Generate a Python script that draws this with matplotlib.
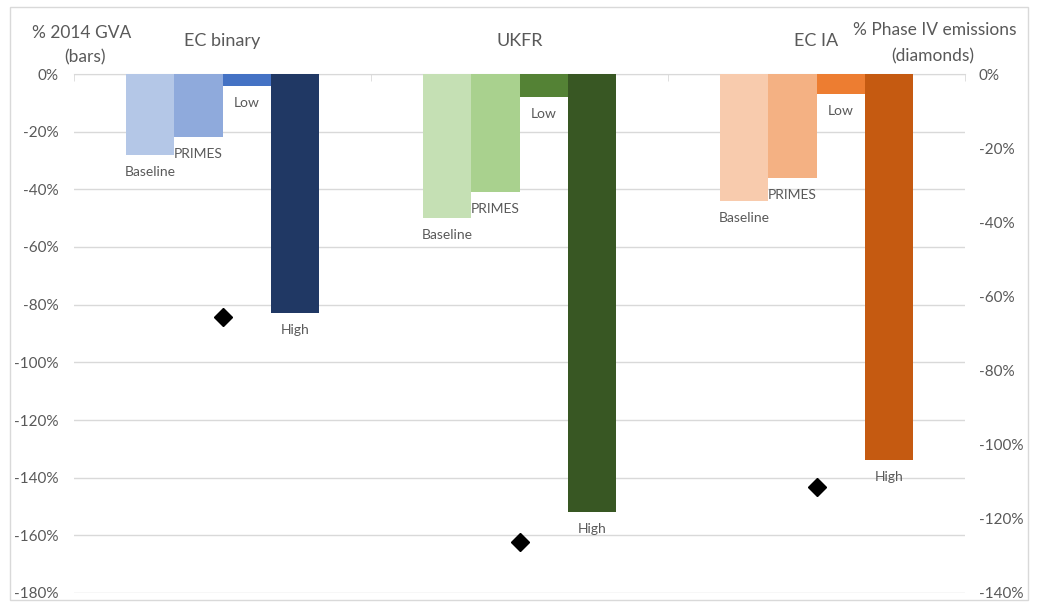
import matplotlib
matplotlib.use("Agg")
import matplotlib.pyplot as plt
from matplotlib.patches import Rectangle
from matplotlib.ticker import FuncFormatter, MultipleLocator, FixedLocator

plt.rcParams['font.family'] = ['Lato', 'DejaVu Sans']

groups = ["EC binary", "UKFR", "EC IA"]
scenarios = ["Baseline", "PRIMES", "Low", "High"]
gva_values = {
    "EC binary": [-28, -22, -4, -83],
    "UKFR": [-50, -41, -8, -152],
    "EC IA": [-44, -36, -7, -134],
}
emissions_values = [-65.6, -126.2, -111.4]
bar_colors = {
    "EC binary": ["#b4c7e7", "#8faadc", "#4472c4", "#203864"],
    "UKFR": ["#c5e0b4", "#a9d18e", "#548235", "#385723"],
    "EC IA": ["#f8cbad", "#f4b183", "#ed7d31", "#c55a11"],
}

W, H = 1038, 604
fig = plt.figure(figsize=(W / 100, H / 100), dpi=100)
TXT = "#595959"
GRID = "#d9d9d9"

# outer border
fig.patches.append(Rectangle((10 / W, 4 / H), 1018 / W, 593 / H, transform=fig.transFigure,
                             fill=False, edgecolor=GRID, lw=1))

ax = fig.add_axes([74 / W, 11 / H, 891 / W, 519 / H])
ax.set_xlim(-0.5, 2.5)
ax.set_ylim(-180, 0)

bw = 0.162
offsets = [-1.5, -0.5, 0.5, 1.5]
for gi, g in enumerate(groups):
    for si, s in enumerate(scenarios):
        x = gi + offsets[si] * bw
        v = gva_values[g][si]
        ax.bar(x, v, width=bw, color=bar_colors[g][si], zorder=3)
        ax.annotate(s, (x, v), xytext=(0, -17), textcoords='offset pixels',
                    ha='center', va='center', fontsize=10, color=TXT, zorder=4)

pct = FuncFormatter(lambda v, p: f"{v:.0f}%")
ax.yaxis.set_major_locator(MultipleLocator(20))
ax.yaxis.set_major_formatter(pct)
ax.grid(axis='y', color=GRID, lw=1, zorder=0)
ax.tick_params(axis='y', length=0, labelsize=11, labelcolor=TXT, pad=11)
for sp in ['left', 'right', 'bottom']:
    ax.spines[sp].set_visible(False)
ax.spines['top'].set_color(GRID)
ax.xaxis.tick_top()
ax.set_xticks(range(len(groups)))
ax.set_xticklabels(groups)
ax.xaxis.set_minor_locator(FixedLocator([-0.5, 0.5, 1.5, 2.5]))
ax.tick_params(axis='x', which='major', length=0, pad=18, labelsize=13, labelcolor=TXT)
ax.tick_params(axis='x', which='minor', direction='in', length=5, color=GRID, top=True, bottom=False)

ax2 = ax.twinx()
ax2.set_ylim(-140, 0)
ax2.plot(range(len(groups)), emissions_values, linestyle='none', marker='D', markersize=9.5,
         color='black', zorder=5)
ax2.yaxis.set_major_locator(MultipleLocator(20))
ax2.yaxis.set_major_formatter(pct)
ax2.tick_params(axis='y', length=0, labelsize=11, labelcolor=TXT, pad=10)
for sp in ax2.spines.values():
    sp.set_visible(False)

fig.text(82 / W, 1 - 33 / H, "% 2014 GVA", ha='center', va='center', fontsize=12.5, color=TXT)
fig.text(85 / W, 1 - 57 / H, "(bars)", ha='center', va='center', fontsize=12.5, color=TXT)
fig.text(935 / W, 1 - 30 / H, "% Phase IV emissions", ha='center', va='center', fontsize=12.5, color=TXT)
fig.text(933 / W, 1 - 56 / H, "(diamonds)", ha='center', va='center', fontsize=12.5, color=TXT)

fig.savefig("out.png", dpi=100)
